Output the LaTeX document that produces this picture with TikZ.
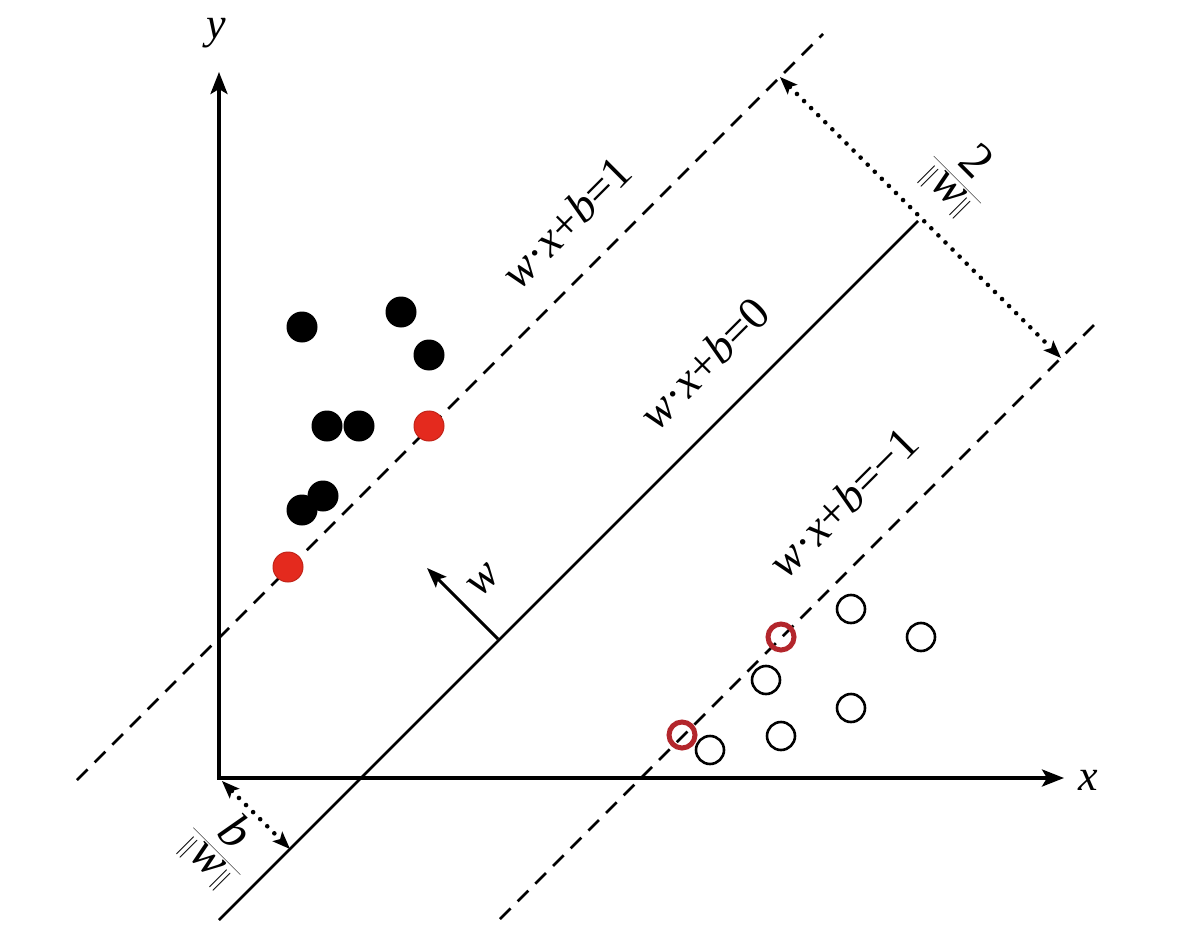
\documentclass[tikz,border=0pt]{standalone}
\usepackage{fontspec}
\setmainfont{Liberation Serif}
\usetikzlibrary{arrows.meta}
\definecolor{ptred}{HTML}{E42A1E}
\definecolor{nred}{HTML}{B3262C}
\begin{document}
\begin{tikzpicture}[x=1pt,y=-1pt,
  axis/.style={line width=3.6pt, {Stealth[length=22pt,width=17pt,inset=5pt]}-{Stealth[length=22pt,width=17pt,inset=5pt]}},
  margin/.style={line width=2.8pt, dash pattern=on 15pt off 10pt},
  hyper/.style={line width=2.8pt},
  gap/.style={line width=4.6pt, line cap=round, dash pattern=on 0pt off 10pt,
    {Stealth[length=18pt,width=14pt,inset=4pt,line width=0pt]}-{Stealth[length=18pt,width=14pt,inset=4pt,line width=0pt]}},
  warrow/.style={line width=3pt, -{Stealth[length=20pt,width=15pt,inset=4pt]}},
  posdot/.style={circle, fill=black, minimum size=31pt, inner sep=0pt},
  posred/.style={circle, fill=ptred, draw=ptred!85!black, line width=1pt, minimum size=30pt, inner sep=0pt},
  negdot/.style={circle, draw=black, line width=2.6pt, minimum size=28pt, inner sep=0pt},
  negred/.style={circle, draw=nred, line width=5pt, minimum size=26pt, inner sep=0pt},
  lab/.style={font=\fontsize{46}{54}\selectfont, inner sep=0pt, rotate=45},
  axlab/.style={font=\fontsize{44}{52}\selectfont\itshape, inner sep=0pt},
  frac/.style={font=\fontsize{50}{58}\selectfont, inner sep=0pt, rotate=-45},
]
\useasboundingbox (0,0) rectangle (1181,931);

% line end points
\coordinate (u1) at (77,780);
\coordinate (u2) at (823,34);
\coordinate (h1) at (219,920);
\coordinate (h2) at (918,221);
\coordinate (l1) at (500,919);
\coordinate (l2) at (1100,319);

\draw[margin] (u1) -- (u2);
\draw[hyper] (h1) -- (h2);
\draw[margin] (l1) -- (l2);

% axes
\coordinate (O) at (219,778);
\coordinate (ytip) at (219,72);
\coordinate (xtip) at (1064,778);
\draw[axis] (ytip) -- (O) -- (xtip);
\node[axlab] (ylab) at (216,33) {y};
\node[axlab] (xlab) at (1088,780) {x};

% margin width arrows
\coordinate (g1) at (780,77);
\coordinate (g2) at (1061,358);
\draw[gap] (g1) -- (g2);
\coordinate (d1) at (222,781);
\coordinate (d2) at (290,849);
\draw[gap] (d1) -- (d2);

% normal vector
\coordinate (wfoot) at (498,639);
\coordinate (wtip) at (427,568);
\draw[warrow] (wfoot) -- (wtip);
\node[lab] (wlab) at (484,580) {\textit{w}};

% labels
\node[lab] (lab1) at (566,222) {\textit{w}·\textit{x}+\textit{b}=1};
\node[lab] (lab0) at (704,363) {\textit{w}·\textit{x}+\textit{b}=0};
\node[lab] (labm) at (843,502) {\textit{w}·\textit{x}+\textit{b}=−1};
\node[frac] (f2) at (962,175) {$\displaystyle\frac{\mbox{2}}{\,\|\mbox{\textit{w}}\|\,}$};
\node[frac] (fb) at (222,846) {$\displaystyle\frac{\mbox{\textit{b}}}{\,\|\mbox{\textit{w}}\|\,}$};

% positive class
\node[posdot] (b1) at (302,327) {};
\node[posdot] (b2) at (401,312) {};
\node[posdot] (b3) at (429,355) {};
\node[posdot] (b4) at (327,426) {};
\node[posdot] (b5) at (359,426) {};
\node[posdot] (b6) at (323,496) {};
\node[posdot] (b7) at (302,510) {};
\node[posred] (r1) at (429,426) {};
\node[posred] (r2) at (288,567) {};

% negative class
\node[negdot] (o1) at (851,609) {};
\node[negdot] (o2) at (921,637) {};
\node[negdot] (o3) at (766,680) {};
\node[negdot] (o4) at (851,708) {};
\node[negdot] (o5) at (781,736) {};
\node[negdot] (o6) at (710,750) {};
\node[negred] (q1) at (781,637) {};
\node[negred] (q2) at (682,735) {};
\end{tikzpicture}
\end{document}
